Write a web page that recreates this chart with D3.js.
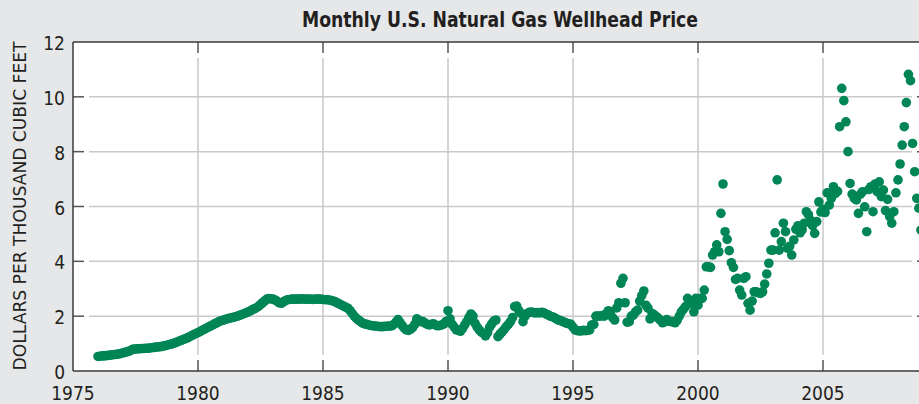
<!DOCTYPE html>
<html>
<head>
<meta charset="utf-8">
<script src="https://cdn.jsdelivr.net/npm/d3@7/dist/d3.min.js"></script>
<style>
  html, body { margin: 0; padding: 0; background: #e6e7e8; }
  svg { display: block; }
  text { font-family: "Liberation Sans Narrow", "DejaVu Sans Condensed", "Liberation Sans", sans-serif; fill: #231f20; }
</style>
</head>
<body>
<svg id="chart" width="919" height="404"></svg>
<script>
// ---- DATA (monthly wellhead price, dollars per thousand cubic feet) ----
const chartTitle = "Monthly U.S. Natural Gas Wellhead Price";
const yAxisTitle = "DOLLARS PER THOUSAND CUBIC FEET";
const firstYear = 1976; // January 1976 is the first monthly value

// Jan 1976 – Dec 1985
const prices1976to1985 = [
  0.53,0.54,0.55,0.55,0.56,0.57,0.58,0.59,0.60,0.61,0.62,0.64,
  0.66,0.68,0.70,0.73,0.76,0.80,0.80,0.81,0.81,0.82,0.82,0.83,
  0.83,0.84,0.85,0.86,0.87,0.88,0.89,0.90,0.92,0.94,0.96,0.98,
  1.00,1.03,1.06,1.09,1.12,1.15,1.18,1.21,1.25,1.29,1.33,1.37,
  1.40,1.44,1.48,1.52,1.56,1.60,1.64,1.68,1.72,1.76,1.80,1.83,
  1.85,1.88,1.90,1.92,1.94,1.96,1.98,2.00,2.03,2.06,2.09,2.12,
  2.15,2.19,2.23,2.27,2.31,2.36,2.42,2.49,2.56,2.62,2.64,2.63,
  2.62,2.59,2.54,2.49,2.47,2.52,2.57,2.60,2.61,2.62,2.62,2.62,
  2.62,2.62,2.63,2.62,2.62,2.62,2.62,2.61,2.62,2.62,2.62,2.62,
  2.61,2.60,2.60,2.59,2.57,2.55,2.52,2.48,2.44,2.40,2.36,2.32
];
// Jan 1986 – Dec 1995
const prices1986to1995 = [
  2.29,2.20,2.10,2.00,1.92,1.86,1.80,1.75,1.72,1.70,1.68,1.66,
  1.65,1.64,1.63,1.62,1.62,1.62,1.63,1.63,1.64,1.65,1.70,1.78,
  1.88,1.76,1.66,1.56,1.50,1.48,1.52,1.58,1.70,1.90,1.85,1.80,
  1.80,1.75,1.70,1.68,1.70,1.72,1.68,1.65,1.66,1.68,1.72,1.80,
  2.20,1.90,1.70,1.60,1.50,1.48,1.45,1.55,1.68,1.80,1.95,2.08,
  2.00,1.74,1.60,1.50,1.42,1.37,1.28,1.40,1.60,1.72,1.82,1.86,
  1.25,1.35,1.43,1.52,1.62,1.70,1.80,1.95,2.35,2.37,2.20,2.10,
  1.80,2.00,2.10,2.14,2.15,2.13,2.12,2.13,2.12,2.14,2.12,2.08,
  2.05,2.00,1.98,1.95,1.90,1.86,1.84,1.80,1.78,1.74,1.72,1.70,
  1.60,1.50,1.47,1.46,1.46,1.48,1.47,1.48,1.50,1.68,1.70,2.00
];
// Jan 1996 – Dec 2008
const prices1996to2008 = [
  2.00,2.00,2.02,2.00,2.10,2.20,2.16,1.95,1.86,2.30,2.49,3.20,
  3.38,2.49,1.78,1.80,2.00,2.04,2.16,2.22,2.55,2.75,2.92,2.40,
  2.29,1.90,2.10,2.05,1.98,1.92,1.85,1.76,1.80,1.88,1.82,1.80,
  1.80,1.76,1.85,2.00,2.16,2.25,2.35,2.65,2.47,2.47,2.16,2.65,
  2.40,2.65,2.65,2.95,3.80,3.80,3.78,4.23,4.35,4.60,4.35,5.75,
  6.82,5.08,4.80,4.39,3.95,3.78,3.34,3.38,2.95,2.77,3.38,3.44,
  2.47,2.22,2.55,2.89,2.89,2.85,2.83,2.89,3.17,3.54,3.93,4.41,
  4.41,5.04,6.97,4.41,4.72,5.39,5.08,4.47,4.55,4.23,4.78,5.17,
  5.30,5.04,5.15,5.39,5.81,5.70,5.50,5.30,5.02,5.45,6.17,5.80,
  5.90,5.78,6.50,6.05,6.30,6.72,6.48,6.55,8.91,10.31,9.86,9.09,
  8.00,6.84,6.45,6.30,6.24,5.75,6.45,6.54,5.99,5.08,6.62,6.72,
  5.81,6.82,6.54,6.90,6.36,6.60,5.85,6.26,5.63,5.39,5.81,6.50,
  6.97,7.55,8.24,8.91,9.79,10.82,10.59,8.30,7.27,6.30,5.94,5.14
];

const xTickYears = [1975, 1980, 1985, 1990, 1995, 2000, 2005];
const yTickValues = [0, 2, 4, 6, 8, 10, 12];

// ---- BUILD ----
const prices = [...prices1976to1985, ...prices1986to1995, ...prices1996to2008];
const points = prices.map((v, i) => ({ t: firstYear + i / 12, v }));

const svg = d3.select("#chart");
const plot = { left: 73, right: 928, top: 42, bottom: 371 };

const x = d3.scaleLinear().domain([1975, 2009.2]).range([plot.left, plot.right]);
const y = d3.scaleLinear().domain([0, 12]).range([plot.bottom, plot.top]);

const axisColor = "#3a3a3a";
const gridColor = "#c9c9c9";
const tickLen = 11, gap = 5;

// plot background
svg.append("rect")
  .attr("x", plot.left).attr("y", plot.top)
  .attr("width", plot.right - plot.left).attr("height", plot.bottom - plot.top)
  .attr("fill", "#ffffff");

// grid lines (with gaps near the frame)
const gridY = yTickValues.filter(v => v > 0 && v < 12);
svg.append("g").selectAll("line").data(gridY).join("line")
  .attr("x1", plot.left + tickLen + gap).attr("x2", plot.right - tickLen - gap)
  .attr("y1", d => y(d)).attr("y2", d => y(d))
  .attr("stroke", gridColor).attr("stroke-width", 1.5);

const gridX = xTickYears.filter(d => d > 1975);
svg.append("g").selectAll("line").data(gridX).join("line")
  .attr("x1", d => x(d)).attr("x2", d => x(d))
  .attr("y1", plot.top + tickLen + gap).attr("y2", plot.bottom - tickLen - gap)
  .attr("stroke", gridColor).attr("stroke-width", 1.5);

// inward ticks
const tg = svg.append("g").attr("stroke", "#555").attr("stroke-width", 1.5);
gridY.forEach(v => {
  tg.append("line").attr("x1", plot.left).attr("x2", plot.left + tickLen).attr("y1", y(v)).attr("y2", y(v));
  tg.append("line").attr("x1", plot.right - tickLen).attr("x2", plot.right).attr("y1", y(v)).attr("y2", y(v));
});
gridX.forEach(d => {
  tg.append("line").attr("x1", x(d)).attr("x2", x(d)).attr("y1", plot.bottom - tickLen).attr("y2", plot.bottom);
  tg.append("line").attr("x1", x(d)).attr("x2", x(d)).attr("y1", plot.top).attr("y2", plot.top + tickLen);
});

// frame
[[plot.left, plot.top, plot.right, plot.top],
 [plot.left, plot.bottom, plot.right, plot.bottom],
 [plot.left, plot.top, plot.left, plot.bottom],
 [plot.right, plot.top, plot.right, plot.bottom]].forEach(s => {
  svg.append("line").attr("x1", s[0]).attr("y1", s[1]).attr("x2", s[2]).attr("y2", s[3])
    .attr("stroke", axisColor).attr("stroke-width", 1.5);
});

// dots
svg.append("g").selectAll("circle").data(points).join("circle")
  .attr("cx", d => x(d.t)).attr("cy", d => y(d.v)).attr("r", 4.8)
  .attr("fill", "#008556");

// y tick labels
svg.append("g").selectAll("text").data(yTickValues).join("text")
  .attr("x", 65).attr("y", d => y(d) + 8)
  .attr("text-anchor", "end").attr("font-size", 19)
  .text(d => d);

// x tick labels
svg.append("g").selectAll("text").data(xTickYears).join("text")
  .attr("x", d => x(d)).attr("y", 400)
  .attr("text-anchor", "middle").attr("font-size", 19)
  .text(d => d);

// y axis title
svg.append("text")
  .attr("transform", "translate(26,206) rotate(-90)")
  .attr("text-anchor", "middle").attr("font-size", 18.5)
  .attr("textLength", 329).attr("lengthAdjust", "spacingAndGlyphs")
  .text(yAxisTitle);

// title
svg.append("text")
  .attr("x", 500).attr("y", 27)
  .attr("text-anchor", "middle").attr("font-size", 21).attr("font-weight", "bold")
  .attr("textLength", 396).attr("lengthAdjust", "spacingAndGlyphs")
  .text(chartTitle);
</script>
</body>
</html>
